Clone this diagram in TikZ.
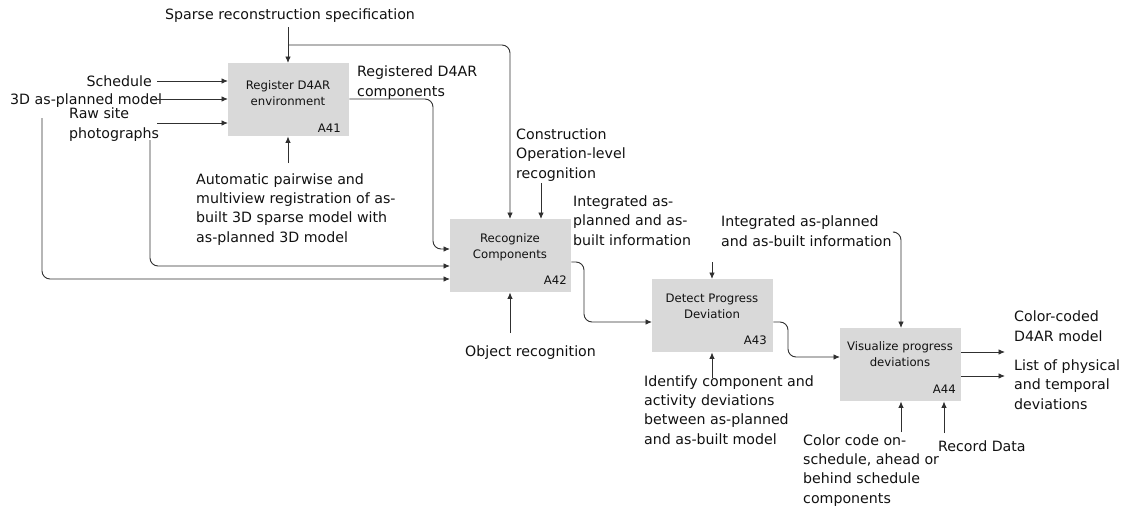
\documentclass[tikz,border=0pt]{standalone}
\usepackage{fontspec}
\setmainfont{DejaVu Sans}
\usetikzlibrary{arrows.meta}
\definecolor{boxgray}{HTML}{D9D9D9}
\definecolor{linegray}{HTML}{303030}
\definecolor{txt}{HTML}{111111}
\begin{document}
\begin{tikzpicture}[x=1pt,y=-1pt,
  lbl/.style={inner sep=0pt, align=left, font=\fontsize{14.2}{19.3}\selectfont, anchor=base west, text=txt},
  actbox/.style={draw=none, fill=boxgray, minimum width=121pt, minimum height=73pt, inner sep=0pt, anchor=north west},
  acttext/.style={inner sep=0pt, align=center, font=\fontsize{11.7}{15.5}\selectfont, anchor=base, text=txt},
  actid/.style={inner sep=0pt, font=\fontsize{11.7}{14}\selectfont, anchor=base east, text=txt},
  arr/.style={draw=linegray, line width=0.9pt, -{Latex[length=6.5pt,width=5.5pt]}},
  rc/.style={rounded corners=8pt}
]
\useasboundingbox (0,0) rectangle (1133,509);

% activity boxes
\node[actbox] (a41) at (228,63) {};
\node[actbox] (a42) at (450,219) {};
\node[actbox] (a43) at (652,279) {};
\node[actbox] (a44) at (840,328) {};

% (base anchor of a multi-line node = baseline of its last line)
\node[acttext] (t41) at (288,105) {Register D4AR\\environment};
\node[acttext] (t42) at (510,258) {Recognize\\Components};
\node[acttext] (t43) at (712,318) {Detect Progress\\Deviation};
\node[acttext] (t44) at (900,366) {Visualize progress\\deviations};

\node[actid] (i41) at (341,132) {A41};
\node[actid] (i42) at (567,284) {A42};
\node[actid] (i43) at (767,344) {A43};
\node[actid] (i44) at (956,393) {A44};

% labels
\node[lbl, anchor=base] (sparse) at (290,19) {Sparse reconstruction specification};
\node[lbl, anchor=base east] (sched) at (152,86) {Schedule};
\node[lbl] (model) at (10,104) {3D as-planned model};
\node[lbl] (raw) at (69,138) {Raw site\\photographs};
\node[lbl] (reg) at (357,96) {Registered D4AR\\components};
\node[lbl] (auto) at (196,242) {Automatic pairwise and\\multiview registration of as-\\built 3D sparse model with\\as-planned 3D model};
\node[lbl] (constr) at (516,178) {Construction\\Operation-level\\recognition};
\node[lbl] (integ1) at (573,245) {Integrated as-\\planned and as-\\built information};
\node[lbl] (objrec) at (465,356) {Object recognition};
\node[lbl] (integ2) at (721,246) {Integrated as-planned\\and as-built information};
\node[lbl] (ident) at (644,444) {Identify component and\\activity deviations\\between as-planned\\and as-built model};
\node[lbl] (ccode) at (803,503) {Color code on-\\schedule, ahead or\\behind schedule\\components};
\node[lbl] (record) at (938,451) {Record Data};
\node[lbl] (ccmodel) at (1014,341) {Color-coded\\D4AR model};
\node[lbl] (list) at (1014,409) {List of physical\\and temporal\\deviations};

% named free ends
\coordinate (sparseEnd) at (288,27);
\coordinate (branch) at (288,45);
\coordinate (schedEnd) at (157,81);
\coordinate (modelEnd) at (152,99);
\coordinate (rawEnd) at (157,123);
\coordinate (autoEnd) at (288,163);
\coordinate (rawDown) at (150,140);
\coordinate (modelDown) at (42,118);
\coordinate (constrEnd) at (541,183);
\coordinate (objEnd) at (510,333);
\coordinate (integ1End) at (712,262);
\coordinate (identEnd) at (712,378);
\coordinate (integ2End) at (895,232);
\coordinate (ccodeEnd) at (901,432);
\coordinate (recordEnd) at (944,433);
\coordinate (out1) at (1005,352);
\coordinate (out2) at (1005,376);

% connectors into A41
\draw[arr] (sparseEnd) -- (a41.north -| sparseEnd);
\draw[arr] (schedEnd) -- (schedEnd -| a41.west);
\draw[arr] (modelEnd) -- (modelEnd -| a41.west);
\draw[arr] (rawEnd) -- (rawEnd -| a41.west);
\draw[arr] (autoEnd) -- (autoEnd |- a41.south);

% branch of sparse spec to A42
\draw[arr, rc] (branch) -- (510,45) -- (510,45 |- a42.north);

% A41 output to A42
\draw[arr, rc] (a41.east |- 0,99) -- (433,99) -- (433,249) -- (a42.west |- 0,249);
% raw photographs to A42
\draw[arr, rc] (rawDown) -- (150,266) -- (a42.west |- 0,266);
% 3D model to A42
\draw[arr, rc] (modelDown) -- (42,279) -- (a42.west |- 0,279);

% controls / mechanisms A42
\draw[arr] (constrEnd) -- (constrEnd |- a42.north);
\draw[arr] (objEnd) -- (objEnd |- a42.south);

% A42 output to A43
\draw[arr, rc] (a42.east |- 0,262) -- (584,262) -- (584,322) -- (a43.west |- 0,322);

% A43 controls / mechanisms
\draw[arr] (integ1End) -- (integ1End |- a43.north);
\draw[arr] (identEnd) -- (identEnd |- a43.south);

% A43 output to A44
\draw[arr, rc] (a43.east |- 0,322) -- (788,322) -- (788,357) -- (a44.west |- 0,357);

% A44 control
\draw[arr, rc] (integ2End) -- (901,232) -- (901,232 |- a44.north);
\draw[arr] (ccodeEnd) -- (ccodeEnd |- a44.south);
\draw[arr] (recordEnd) -- (recordEnd |- a44.south);

% A44 outputs
\draw[arr] (a44.east |- out1) -- (out1);
\draw[arr] (a44.east |- out2) -- (out2);
\end{tikzpicture}
\end{document}
